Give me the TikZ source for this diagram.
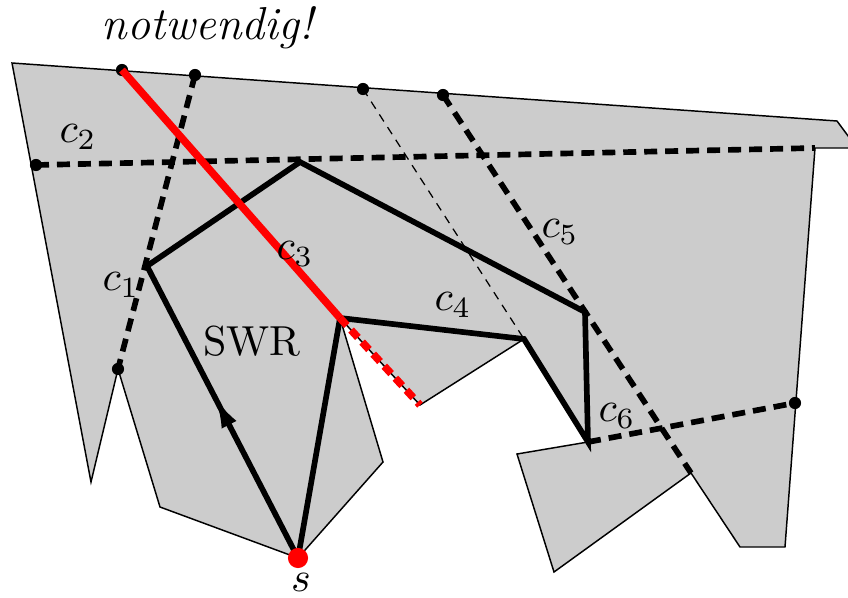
\documentclass[tikz,border=0pt]{standalone}
\usetikzlibrary{arrows.meta,decorations.markings}
\tikzset{>=Latex,
  every node/.style={font=\normalsize},
  region/.style={fill=black!20,draw=black,line width=.35pt},
  chord/.style={draw=black,line width=1.35pt,dash pattern=on 3.1pt off 1.9pt},
  thinchord/.style={draw=black,line width=.3pt,dash pattern=on 2pt off 1.6pt},
  swrpath/.style={draw=black,line width=1.35pt},
  cutline/.style={draw=red,line width=1.8pt},
  enddot/.style={circle,fill=black,inner sep=0pt,minimum size=2.9pt}}

\begin{document}
\begin{tikzpicture}[x=0.00837cm,y=-0.00837cm]
\useasboundingbox (0,0) rectangle (848,597);
% corners of the region, clockwise from the upper left
\coordinate (p1) at (12,63);   \coordinate (p2) at (837,121);
\coordinate (p3) at (857,148); \coordinate (p4) at (815,148);
\coordinate (p5) at (785,547); \coordinate (p6) at (740,547);
\coordinate (p7) at (691,473); \coordinate (p8) at (554,572);
\coordinate (p9) at (517,454); \coordinate (p10) at (588,442);
\coordinate (p11) at (524,339); \coordinate (p12) at (420,405);
\coordinate (p13) at (340,318); \coordinate (p14) at (383,462);
\coordinate (s) at (298,558);  \coordinate (p16) at (160,507);
\coordinate (p17) at (118,369); \coordinate (p18) at (91,482);
% further corners of the window path
\coordinate (w1) at (147,266); \coordinate (w2) at (300,162);
\coordinate (w3) at (585,312);
\fill[black!20] (p1)--(p2)--(p3)--(p4)--(p5)--(p6)--(p7)--(p8)--(p9)--(p10)--(p11)--(p12)
  --(p13)--(p14)--(s)--(p16)--(p17)--(p18)--cycle;
\draw[region,fill=none] (p1)--(p2)--(p3)--(p4)--(p5)--(p6)--(p7)--(p8)--(p9)--(p10)--(p11)--(p12)
  --(p13)--(p14)--(s)--(p16)--(p17)--(p18)--cycle;
% chord ends on the boundary
\node[enddot] (e3) at (122,70) {};
\node[enddot] (e1) at (195,75) {};
\node[enddot] (e4) at (363,89) {};
\node[enddot] (e5) at (443,95) {};
\node[enddot] (e2) at (36,165) {};
\node[enddot] (f1) at (118,369) {};
\node[enddot] (f6) at (795,403) {};
\draw[thinchord] (e3.center)--(p13);
\draw[thinchord] (e4.center)--(p11);
\draw[chord] (e1.center)--(f1.center);
\draw[chord] (e2.center)--(p4);
\draw[chord] (e5.center)--(p7);
\draw[chord] (p10)--(f6.center);
\draw[swrpath] (s)--(w1)--(w2)--(w3)--(p10)--(p11)--(p13)--cycle;
\path[postaction={decorate},decoration={markings,mark=at position .54 with {\arrow{Latex[length=6.5pt,width=4pt]}}}] (s)--(w1);
\draw[cutline] (e3.center)--(p13);
\draw[cutline,dash pattern=on 2.4pt off 1.5pt] (p13)--(p12);
\fill[red] (s) circle (2.4pt);
\node (lc1) at (121,285) {$c_1$};
\node (lc2) at (78,137) {$c_2$};
\node (lc3) at (295,254) {$c_3$};
\node (lc4) at (453,305) {$c_4$};
\node (lc5) at (560,232) {$c_5$};
\node (lc6) at (617,416) {$c_6$};
\node (swr) at (252,341) {SWR};
\node (ls) at (301,582) {$s$};
\node[font=\fontsize{11}{13}\selectfont] (nw) at (209,28) {\textit{notwendig!}};
\end{tikzpicture}
\end{document}
